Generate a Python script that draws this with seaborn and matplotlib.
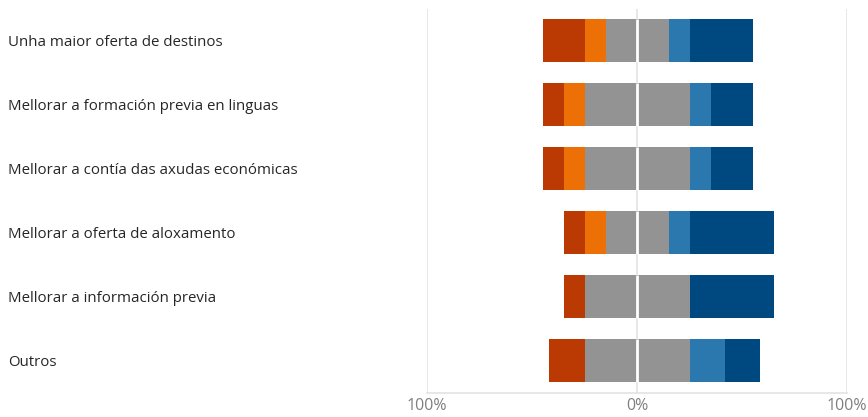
import matplotlib
matplotlib.use("Agg")
import matplotlib.pyplot as plt
import seaborn as sns
import pandas as pd
import numpy as np

categories = [
    "Unha maior oferta de destinos",
    "Mellorar a formación previa en linguas",
    "Mellorar a contía das axudas económicas",
    "Mellorar a oferta de aloxamento",
    "Mellorar a información previa",
    "Outros",
]
# percentages per response level (most negative -> most positive)
nada = [20, 10, 10, 10, 10, 16.67]
pouco = [10, 10, 10, 10, 0, 0]
neutral = [30, 50, 50, 30, 50, 50]
bastante = [10, 10, 10, 10, 0, 16.67]
moito = [30, 20, 20, 40, 40, 16.67]

colors = {
    "nada": "#bb3a04",
    "pouco": "#ec7006",
    "neutral": "#939393",
    "bastante": "#2b78ae",
    "moito": "#004880",
}

sns.set_theme(style="white")
plt.rcParams["font.family"] = ["Open Sans", "DejaVu Sans"]

df = pd.DataFrame({
    "cat": categories,
    "nada": nada, "pouco": pouco, "neutral": neutral,
    "bastante": bastante, "moito": moito,
})
half = df["neutral"] / 2
df["neg_nada"] = -(half + df["pouco"] + df["nada"])
df["neg_pouco"] = -(half + df["pouco"])
df["neg_neutral"] = -half
df["pos_moito"] = half + df["bastante"] + df["moito"]
df["pos_bastante"] = half + df["bastante"]
df["pos_neutral"] = half

fig = plt.figure(figsize=(8.68, 4.17), dpi=100)
ax = fig.add_axes([427 / 868, 1 - 392.5 / 417, 420 / 868, 384 / 417])

bw = 0.67
layers = [
    ("neg_nada", "nada"), ("neg_pouco", "pouco"), ("neg_neutral", "neutral"),
    ("pos_moito", "moito"), ("pos_bastante", "bastante"), ("pos_neutral", "neutral"),
]
for col, key in layers:
    sns.barplot(data=df, x=col, y="cat", order=categories, color=colors[key],
                width=bw, ax=ax, saturation=1, linewidth=0, zorder=2)

# white divider at 0 over bars
ypos = np.arange(len(categories))
ax.vlines(np.zeros(len(categories)), ypos - bw / 2, ypos + bw / 2,
          colors="white", linewidth=2, zorder=3)

ax.set_xlim(-100, 100)
ax.set_ylim(len(categories) - 0.5, -0.5)
ax.set_xticks([-100, 0, 100])
ax.set_xticklabels(["100%", "0%", "100%"])
ax.tick_params(axis="x", colors="#7f7f7f", labelsize=11.5, length=0, pad=4)
ax.set_yticks([])
ax.set_xlabel("")
ax.set_ylabel("")
for x in [-100, 0, 100]:
    ax.axvline(x, color="#e3e3e3", linewidth=1.2, zorder=0)
for s in ["top", "left", "right"]:
    ax.spines[s].set_visible(False)
ax.spines["bottom"].set_color("#e3e3e3")
ax.spines["bottom"].set_linewidth(1.2)

tr = ax.get_yaxis_transform()
for i, c in enumerate(categories):
    ax.text((8 - 427) / 420, i, c, transform=tr, ha="left",
            va="center_baseline", fontsize=10.8, color="#262626")

fig.savefig("out.png", dpi=100)
